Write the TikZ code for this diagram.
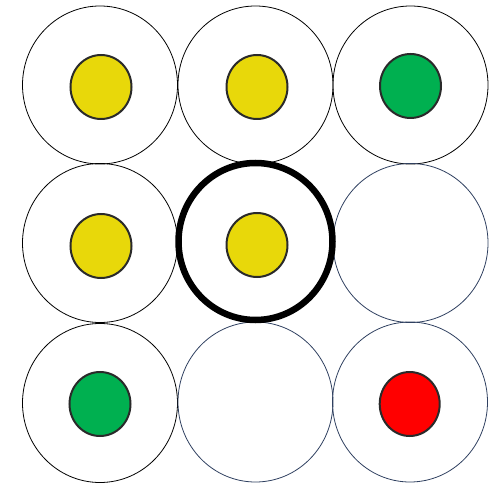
\documentclass[tikz,border=0pt]{standalone}
\definecolor{dotyellow}{HTML}{E8D80A}
\definecolor{dotgreen}{HTML}{00B050}
\definecolor{dotred}{HTML}{FF0000}
\definecolor{navy}{HTML}{2F4060}
\definecolor{dotline}{HTML}{2A2A2A}
\begin{document}
\begin{tikzpicture}[x=1pt,y=-1pt,
  cell/.style={draw=black,line width=0.8pt},
  cellnavy/.style={draw=navy,line width=0.8pt},
  cellbold/.style={draw=black,line width=6.5pt},
  dot/.style={draw=dotline,line width=2pt}]
\useasboundingbox (0,0) rectangle (498,486);
% cells
\draw[cell] (100,85) ellipse [x radius=77.5,y radius=79];
\draw[cell] (255.5,85) ellipse [x radius=77.5,y radius=79];
\draw[cell] (410.5,85) ellipse [x radius=77.5,y radius=79];
\draw[cell] (100,243) ellipse [x radius=77.5,y radius=79.5];
\draw[cellnavy] (410.5,243) ellipse [x radius=77.5,y radius=79.5];
\draw[cell] (100,403) ellipse [x radius=77.5,y radius=79.5];
\draw[cellnavy] (255.5,402) ellipse [x radius=77.5,y radius=80];
\draw[cellnavy] (410,402) ellipse [x radius=77.5,y radius=80];
\draw[cellbold] (255.5,241.5) ellipse [x radius=77,y radius=78.5];
% dots
\draw[dot,fill=dotyellow] (101,87) ellipse [x radius=30.5,y radius=32];
\draw[dot,fill=dotyellow] (257,87) ellipse [x radius=30.5,y radius=32];
\draw[dot,fill=dotgreen] (410.5,86) ellipse [x radius=30.5,y radius=32];
\draw[dot,fill=dotyellow] (101,246) ellipse [x radius=30.5,y radius=32];
\draw[dot,fill=dotyellow] (257,245) ellipse [x radius=30.5,y radius=32];
\draw[dot,fill=dotgreen] (100,404) ellipse [x radius=30.5,y radius=32];
\draw[dot,fill=dotred] (409.7,404) ellipse [x radius=30,y radius=32];
\end{tikzpicture}
\end{document}
